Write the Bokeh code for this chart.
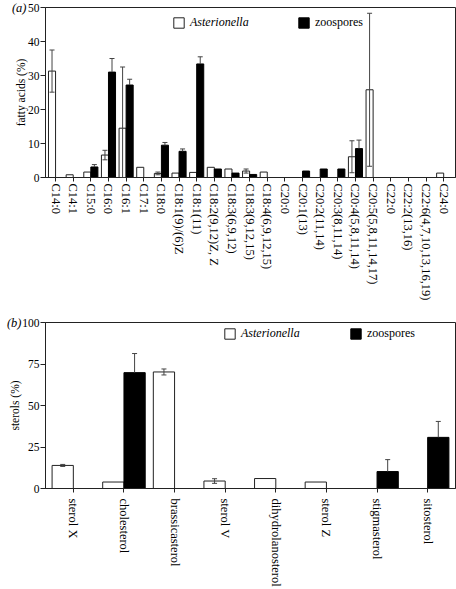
import numpy as np
from bokeh.plotting import figure
from bokeh.models import (Range1d, FixedTicker, Whisker, TeeHead, ColumnDataSource,
                          Legend, LegendItem, LinearAxis)
from bokeh.layouts import column
from bokeh.embed import file_html
from bokeh.resources import INLINE

# ---------------- data ----------------
fatty_acids = ["C14:0", "C14:1", "C15:0", "C16:0", "C16:1", "C17:1", "C18:0",
               "C18:1(9)/(6)Z", "C18:1(11)", "C18:2(9,12)Z, Z", "C18:3(6,9,12)",
               "C18:3(9,12,15)", "C18:4(6,9,12,15)", "C20:0", "C20:1(13)",
               "C20:2(11,14)", "C20:3(8,11,14)", "C20:4(5,8,11,14)",
               "C20:5(5,8,11,14,17)", "C22:0", "C22:2(13,16)",
               "C22:6(4,7,10,13,16,19)", "C24:0"]
asterionella_fa = [31.3, 0.8, 1.6, 6.6, 14.5, 3.0, 1.2, 1.3, 1.5, 3.0, 2.5, 1.9,
                   1.6, 0, 0, 0, 0, 6.1, 25.8, 0, 0, 0, 1.3]
asterionella_fa_err = [6.2, 0, 0, 1.4, 18.0, 0, 0.4, 0, 0, 0, 0, 0.6,
                       0, 0, 0, 0, 0, 4.7, 22.5, 0, 0, 0, 0]
zoospores_fa = [0, 0, 3.1, 31.0, 27.2, 0, 9.5, 7.7, 33.4, 2.5, 1.3, 0.9,
                0, 0, 1.9, 2.5, 2.5, 8.5, 0, 0, 0, 0, 0]
zoospores_fa_err = [0, 0, 0.7, 4.0, 1.7, 0, 0.8, 0.7, 2.1, 0, 0, 0,
                    0, 0, 0, 0, 0, 2.5, 0, 0, 0, 0, 0]
fa_yticks = [0, 10, 20, 30, 40, 50]

sterols = ["sterol X", "cholesterol", "brassicasterol", "sterol V",
           "dihydrolanosterol", "sterol Z", "stigmasterol", "sitosterol"]
asterionella_st = [13.9, 3.9, 70.2, 4.5, 6.0, 3.9, 0, 0]
asterionella_st_err = [0.6, 0, 1.8, 1.4, 0, 0, 0, 0]
zoospores_st = [0, 69.8, 0, 0, 0, 0, 10.2, 30.8]
zoospores_st_err = [0, 11.5, 0, 0, 0, 0, 7.2, 9.6]
st_yticks = [0, 25, 50, 75, 100]

SERIF = "Liberation Serif"
INK = "#222222"
ERR = "#444444"
W = 456


def panel(cats, ast, ast_err, zoo, zoo_err, yticks, ylabel, tag, height,
          top_border, bottom_border, pad, bar_w, xlabel_standoff, leg_x):
    n = len(cats)
    ymax = yticks[-1]
    p = figure(width=W, height=height, output_backend="svg", toolbar_location=None,
               x_range=Range1d(-0.5 - pad[0], n - 0.5 + pad[1]),
               y_range=Range1d(0, ymax),
               min_border_left=45, min_border_right=1,
               min_border_top=top_border, min_border_bottom=bottom_border)
    p.xgrid.grid_line_color = None
    p.ygrid.grid_line_color = None
    p.outline_line_color = INK
    p.background_fill_color = "white"
    p.border_fill_color = "white"

    xs = np.arange(n)
    ast = np.array(ast, float); ast_err = np.array(ast_err, float)
    zoo = np.array(zoo, float); zoo_err = np.array(zoo_err, float)
    off = bar_w / 2

    ma = ast > 0
    mz = zoo > 0
    ra = p.vbar(x=xs[ma] - off, top=ast[ma], width=bar_w, bottom=0,
                fill_color="white", line_color=INK, line_width=1)
    rz = p.vbar(x=xs[mz] + off, top=zoo[mz], width=bar_w, bottom=0,
                fill_color="black", line_color="black", line_width=1)

    ea = ast_err > 0
    if ea.any():
        src = ColumnDataSource(dict(base=xs[ea] - off,
                                    upper=ast[ea] + ast_err[ea],
                                    lower=np.maximum(ast[ea] - ast_err[ea], 0)))
        w = Whisker(source=src, base="base", upper="upper", lower="lower",
                    dimension="height", line_color=ERR, line_width=1,
                    upper_head=TeeHead(size=5, line_color=ERR, line_width=1),
                    lower_head=TeeHead(size=5, line_color=ERR, line_width=1),
                    level="annotation")
        p.add_layout(w)
    ez = zoo_err > 0
    if ez.any():
        src = ColumnDataSource(dict(base=xs[ez] + off,
                                    upper=zoo[ez] + zoo_err[ez],
                                    lower=zoo[ez]))
        w = Whisker(source=src, base="base", upper="upper", lower="lower",
                    dimension="height", line_color=ERR, line_width=1,
                    upper_head=TeeHead(size=5, line_color=ERR, line_width=1),
                    lower_head=None, level="annotation")
        p.add_layout(w)

    # axes
    p.xaxis.ticker = FixedTicker(ticks=list(range(n)))
    p.xaxis.major_label_overrides = {i: c for i, c in enumerate(cats)}
    p.xaxis.major_label_orientation = "vertical"
    p.xaxis.major_label_text_font = SERIF
    p.xaxis.major_label_text_font_size = "12.5px"
    p.xaxis.major_label_text_color = "black"
    p.xaxis.major_tick_in = 0
    p.xaxis.major_tick_out = 4
    p.xaxis.minor_tick_line_color = None
    p.xaxis.major_label_standoff = xlabel_standoff
    p.xaxis.axis_line_color = INK
    p.xaxis.major_tick_line_color = INK

    p.yaxis.ticker = FixedTicker(ticks=yticks)
    p.yaxis.minor_tick_line_color = None
    p.yaxis.major_tick_in = 0
    p.yaxis.major_tick_out = 5
    p.yaxis.major_label_standoff = 1
    p.yaxis.major_label_text_font = SERIF
    p.yaxis.major_label_text_font_size = "11.5px"
    p.yaxis.major_label_text_color = "black"
    p.yaxis.axis_label = ylabel
    p.yaxis.axis_label_text_font = SERIF
    p.yaxis.axis_label_text_font_size = "11.5px"
    p.yaxis.axis_label_text_font_style = "normal"
    p.yaxis.axis_label_text_color = "black"
    p.yaxis.axis_label_standoff = -2
    p.yaxis.axis_line_color = INK
    p.yaxis.major_tick_line_color = INK

    # panel tag "(a)" / "(b)": an outer, line-less axis carrying one label at the top tick
    tag_axis = LinearAxis(ticker=FixedTicker(ticks=[ymax]),
                          major_label_overrides={ymax: tag},
                          axis_line_color=None, major_tick_line_color=None,
                          minor_tick_line_color=None,
                          major_tick_in=0, major_tick_out=0,
                          major_label_standoff=-15,
                          major_label_text_font=SERIF,
                          major_label_text_font_size="12.5px",
                          major_label_text_font_style="italic",
                          major_label_text_color="black")
    p.add_layout(tag_axis, "left")

    # legends (separate, so only Asterionella is italic)
    frame_h = height - top_border - bottom_border
    leg_y = frame_h - 23
    common = dict(orientation="horizontal", padding=0, margin=0,
                  border_line_alpha=0, background_fill_alpha=0,
                  glyph_width=13, glyph_height=13, label_standoff=5,
                  label_text_font=SERIF, label_text_font_size="12px",
                  label_text_color="black")
    l1 = Legend(items=[LegendItem(label="Asterionella", renderers=[ra])],
                location=(leg_x[0], leg_y), label_text_font_style="italic", **common)
    l2 = Legend(items=[LegendItem(label="zoospores", renderers=[rz])],
                location=(leg_x[1], leg_y), label_text_font_style="normal", **common)
    p.add_layout(l1)
    p.add_layout(l2)
    return p


pa = panel(fatty_acids, asterionella_fa, asterionella_fa_err, zoospores_fa,
           zoospores_fa_err, fa_yticks, "fatty acids (%)", "(a)", 312, 7, 135,
           (0.07, 0.17), 0.4, 2, (127, 252))
pb = panel(sterols, asterionella_st, asterionella_st_err, zoospores_st,
           zoospores_st_err, st_yticks, "sterols (%)", "(b)", 277, 10, 97,
           (0.05, 0.05), 0.42, 6, (178, 304))

layout = column(pa, pb, spacing=0)
open("out.html", "w").write(file_html(layout, INLINE))
